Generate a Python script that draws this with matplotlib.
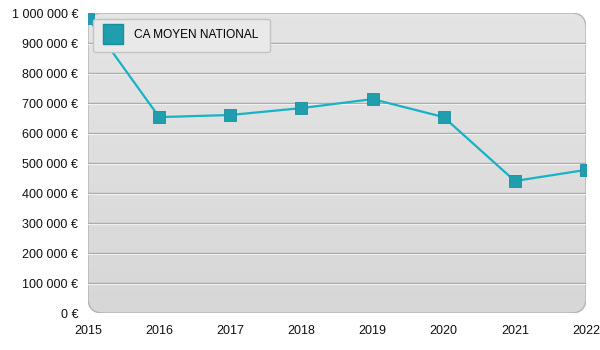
import numpy as np
import matplotlib.pyplot as plt
from matplotlib.patches import FancyBboxPatch
from matplotlib.lines import Line2D
from matplotlib.ticker import FuncFormatter

plt.rcParams['font.family'] = ['Liberation Sans', 'DejaVu Sans']

# Données
annees = [2015, 2016, 2017, 2018, 2019, 2020, 2021, 2022]
ca_moyen = [983000, 653000, 660000, 683000, 713000, 653000, 440000, 477000]
serie_label = 'CA MOYEN NATIONAL'
y_ticks = list(range(0, 1000001, 100000))

teal = '#17b2c6'
teal_marker = '#1f9fae'

fig = plt.figure(figsize=(6, 3.5), dpi=100)
ax = fig.add_axes([88 / 600, 37 / 350, 498 / 600, 300 / 350])

# fond arrondi en dégradé
panel = FancyBboxPatch((0, 0), 1, 1, boxstyle='round,pad=0,rounding_size=0.03',
                       transform=ax.transAxes, facecolor='none',
                       edgecolor='#b4b4b4', linewidth=1.0, zorder=1,
                       mutation_aspect=498 / 300)
ax.add_patch(panel)
grad = np.linspace(0.84, 0.895, 100).reshape(-1, 1)
img = ax.imshow(grad, extent=[0, 1, 0, 1], transform=ax.transAxes,
                cmap='gray', vmin=0, vmax=1, aspect='auto', zorder=0,
                origin='lower', interpolation='bilinear')
img.set_clip_path(panel)
ax.set_xlim(2015, 2022)
ax.set_ylim(0, 1000000)

# lignes de grille
for v in y_ticks[1:-1]:
    ax.axhline(v, color='#a9a9a9', linewidth=1.0, zorder=2)
    ax.axhline(v - 3500, color='#f0f0f0', linewidth=0.8, zorder=2)

for s in ax.spines.values():
    s.set_visible(False)

ax.plot(annees, ca_moyen, color=teal, linewidth=1.6, zorder=3)
ax.plot(annees, ca_moyen, linestyle='none', marker='s', markersize=8.5,
        markerfacecolor=teal_marker, markeredgecolor='#1a8e9c',
        markeredgewidth=0.6, zorder=4)

ax.set_xticks(annees)
ax.set_yticks(y_ticks)
ax.yaxis.set_major_formatter(FuncFormatter(
    lambda v, p: '{:,}'.format(int(v)).replace(',', ' ') + ' €'))
ax.tick_params(axis='both', length=0, labelsize=9, colors='#111111')
ax.tick_params(axis='y', pad=7)
ax.tick_params(axis='x', pad=9)

handle = Line2D([], [], linestyle='none', marker='s', markersize=14,
                markerfacecolor=teal_marker, markeredgecolor='#1a8e9c')
leg = ax.legend([handle], [serie_label], loc='upper left',
                bbox_to_anchor=(0.002, 0.993), fontsize=8.6, frameon=True,
                fancybox=True, facecolor='#e9e9e9', edgecolor='#c4c4c4',
                framealpha=1, borderpad=0.9, handletextpad=0.9,
                handlelength=1.7, borderaxespad=0.3)
leg.set_zorder(5)

fig.savefig('out.png', dpi=100)
